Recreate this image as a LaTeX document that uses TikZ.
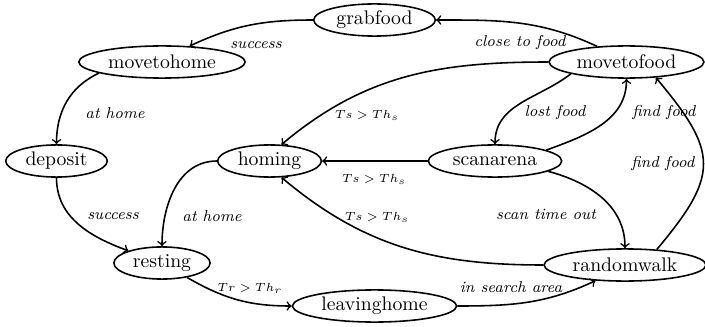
\documentclass[tikz,border=0pt]{standalone}
\usetikzlibrary{shapes.geometric}
\begin{document}
\begin{tikzpicture}[x=0.5076pt,y=0.5076pt,
  state/.style={ellipse,draw,thick,inner xsep=2.5pt,inner ysep=0.5pt,minimum height=16.3pt,font=\normalsize},
  lbl/.style={font=\footnotesize\itshape,inner sep=0pt},
  mlbl/.style={font=\fontsize{6}{7}\selectfont,inner sep=0pt},
  tr/.style={->,thick}]
\useasboundingbox (0,0) rectangle (705,326);
\node[state] (grabfood) at (374.5,306) {grabfood};
\node[state] (movetohome) at (162,264) {movetohome};
\node[state] (movetofood) at (626.5,264) {movetofood};
\node[state] (deposit) at (56.5,165) {deposit};
\node[state] (homing) at (269.5,165) {homing};
\node[state] (scanarena) at (495,165) {scanarena};
\node[state] (resting) at (162,63) {resting};
\node[state] (randomwalk) at (625,61) {randomwalk};
\node[state] (leavinghome) at (374.5,20) {leavinghome};

\draw[tr] (grabfood.west) to[out=180,in=25] (movetohome.30);
\draw[tr] (movetohome.190) to[out=205,in=90] (deposit.north);
\draw[tr] (deposit.south) to[out=-90,in=160] (resting.160);
\draw[tr] (homing.west) to[out=180,in=90] (resting.north);
\draw[tr] (resting.-30) to[out=-30,in=180] (leavinghome.west);
\draw[tr] (leavinghome.east) to[out=0,in=205] (randomwalk.208);
\draw[tr] (randomwalk.26) to[out=50,in=-50,looseness=1.45] (movetofood.-28);
\draw[tr] (scanarena.12) to[out=20,in=-90] (movetofood.south);
\draw[tr] (movetofood.192) to[out=218,in=90] (scanarena.north);
\draw[tr] (movetofood.152) to[out=155,in=0] (grabfood.east);
\draw[tr] (movetofood.west) to[out=180,in=40] (homing.54);
\draw[tr] (scanarena.west) -- (homing.east);
\draw[tr] (randomwalk.west) to[out=180,in=-40] (homing.-54);
\draw[tr] (scanarena.-11) to[out=-15,in=90] (randomwalk.north);

\node[lbl] (l1) at (256,281) {success};
\node[lbl] (l2) at (115,213) {at home};
\node[lbl] (l3) at (113,110) {success};
\node[lbl] (l4) at (212,110) {at home};
\node[mlbl] (l5) at (250,38) {$Tr > Th_r$};
\node[lbl] (l6) at (511,39) {in search area};
\node[lbl] (l7) at (663,162) {find food};
\node[lbl] (l8) at (546,112) {scan time out};
\node[mlbl] (l9) at (374,147) {$Ts > Th_s$};
\node[mlbl] (l10) at (377,109) {$Ts > Th_s$};
\node[mlbl] (l11) at (367,211) {$Ts > Th_s$};
\node[lbl] (l12) at (555,213) {lost food};
\node[lbl] (l13) at (664,213) {find food};
\node[lbl] (l14) at (520,283) {close to food};
\end{tikzpicture}
\end{document}
